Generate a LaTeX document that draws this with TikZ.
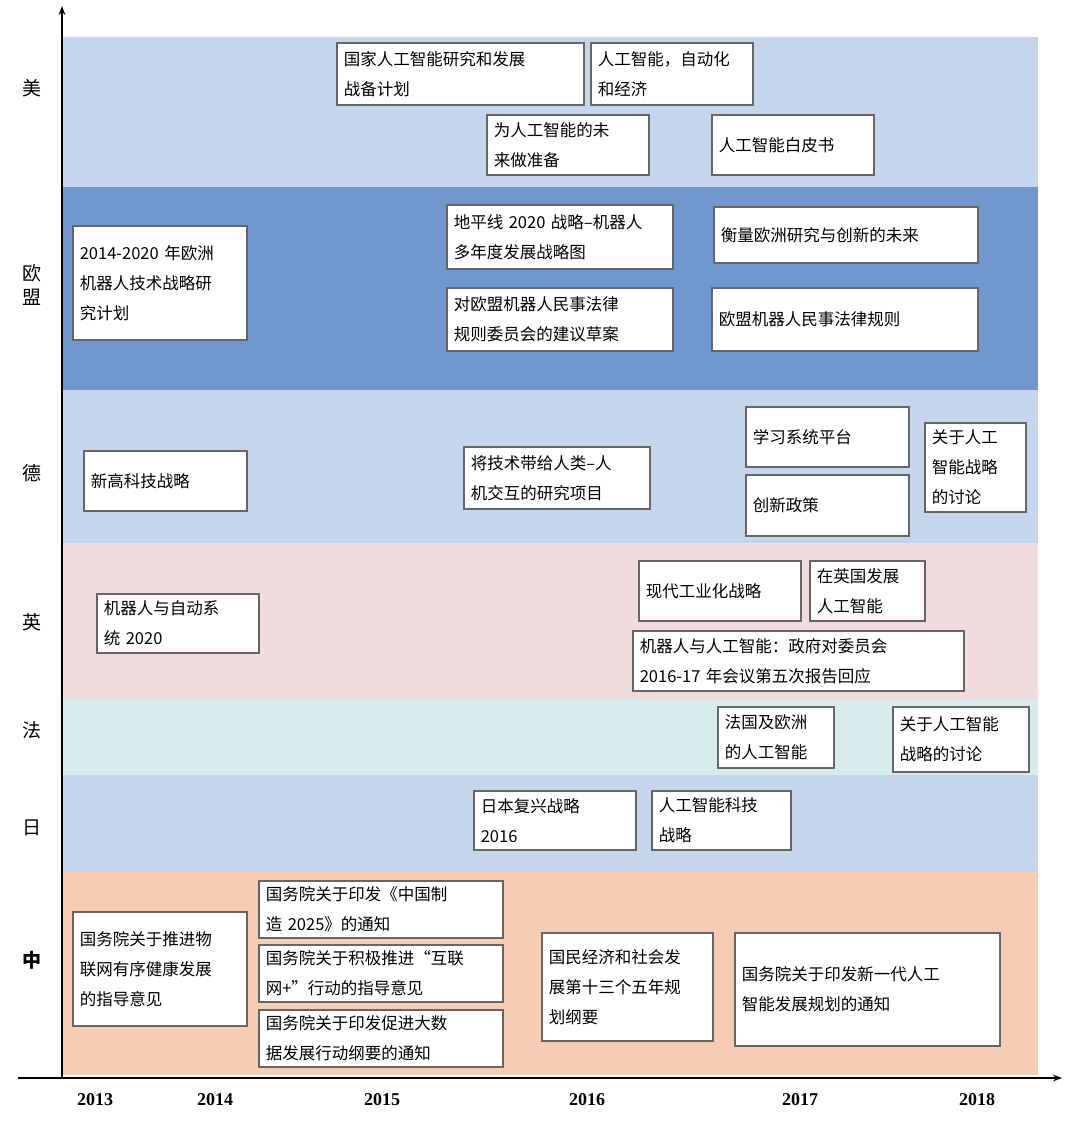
\documentclass[tikz,border=0pt]{standalone}
\usepackage{fontspec}
\setmainfont{Liberation Serif}
\newfontfamily\cjk{Noto Sans CJK SC}
\usetikzlibrary{arrows.meta}
\definecolor{bandblue}{HTML}{C5D5EC}
\definecolor{banddark}{HTML}{7098CF}
\definecolor{bandpink}{HTML}{F0DCDC}
\definecolor{bandcyan}{HTML}{D6ECEC}
\definecolor{bandpeach}{HTML}{F6CDB4}
\tikzset{
  pbox/.style={draw=black!60, line width=1.6pt, fill=white, anchor=north west,
    align=left, inner sep=6pt, font=\cjk\fontsize{16.5}{30}\selectfont},
  rowlab/.style={font=\cjk\fontsize{19}{20}\selectfont},
  yearlab/.style={font=\bfseries\fontsize{18}{20}\selectfont}
}
\newcommand\pb[6]{\node[pbox, minimum width=#4pt, minimum height=#5pt, text width=#4pt-14pt] (#1) at (#2,#3) {#6};}
\begin{document}
\begin{tikzpicture}[x=1pt,y=-1pt]
\useasboundingbox (0,0) rectangle (1080,1125);
% bands
\fill[bandblue] (62,37) rectangle (1038,187);
\fill[banddark] (62,187) rectangle (1038,390);
\fill[bandblue] (62,390) rectangle (1038,543);
\fill[bandpink] (62,543) rectangle (1038,700);
\fill[bandcyan] (62,700) rectangle (1038,775);
\fill[bandblue] (62,775) rectangle (1038,872);
\fill[bandpeach] (62,872) rectangle (1038,1075);
% axes
\coordinate (o) at (62,1078);
\coordinate (ytop) at (62,6);
\coordinate (xl) at (18,1078);
\coordinate (xr) at (1062,1078);
\draw[line width=1.4pt, -{Stealth[length=9pt]}] (o) -- (ytop);
\draw[line width=1.4pt, -{Stealth[length=9pt]}] (xl) -- (xr);
% rows
\node[rowlab] (rus) at (32,88) {美};
\node[rowlab] (reua) at (32,273) {欧};
\node[rowlab] (reub) at (32,297) {盟};
\node[rowlab] (rde) at (32,473) {德};
\node[rowlab] (ruk) at (32,622) {英};
\node[rowlab] (rfr) at (32,730) {法};
\node[rowlab] (rjp) at (32,828) {日};
\node[rowlab, font=\cjk\bfseries\fontsize{19}{20}\selectfont] (rcn) at (32,960) {中};
% years
\node[yearlab] (y13) at (95,1100) {2013};
\node[yearlab] (y14) at (215,1100) {2014};
\node[yearlab] (y15) at (382,1100) {2015};
\node[yearlab] (y16) at (587,1100) {2016};
\node[yearlab] (y17) at (800,1100) {2017};
\node[yearlab] (y18) at (977,1100) {2018};
% US
\pb{usa}{336}{42}{247}{62}{国家人工智能研究和发展\\战备计划}
\pb{usb}{590}{42}{162}{62}{人工智能，自动化\\和经济}
\pb{usc}{486}{114}{162}{60}{为人工智能的未\\来做准备}
\pb{usd}{711}{114}{162}{60}{人工智能白皮书}
% EU
\pb{eua}{72}{225}{174}{114}{2014-2020 年欧洲\\机器人技术战略研\\究计划}
\pb{eub}{446}{204}{226}{64}{地平线 2020 战略–机器人\\多年度发展战略图}
\pb{euc}{713}{206}{264}{56}{衡量欧洲研究与创新的未来}
\pb{eud}{446}{287}{226}{63}{对欧盟机器人民事法律\\规则委员会的建议草案}
\pb{eue}{711}{287}{266}{63}{欧盟机器人民事法律规则}
% DE
\pb{dea}{83}{450}{163}{60}{新高科技战略}
\pb{deb}{463}{446}{186}{62}{将技术带给人类–人\\机交互的研究项目}
\pb{dec}{745}{406}{163}{60}{学习系统平台}
\pb{ded}{745}{474}{163}{61}{创新政策}
\pb{dee}{924}{422}{101}{89}{关于人工\\智能战略\\的讨论}
% UK
\pb{uka}{96}{593}{162}{59}{机器人与自动系\\统 2020}
\pb{ukb}{638}{560}{162}{60}{现代工业化战略}
\pb{ukc}{809}{560}{115}{60}{在英国发展\\人工智能}
\pb{ukd}{632}{630}{331}{60}{机器人与人工智能：政府对委员会\\2016-17 年会议第五次报告回应}
% FR
\pb{fra}{717}{706}{116}{61}{法国及欧洲\\的人工智能}
\pb{frb}{892}{706}{136}{65}{关于人工智能\\战略的讨论}
% JP
\pb{jpa}{473}{790}{162}{59}{日本复兴战略\\2016}
\pb{jpb}{651}{790}{139}{59}{人工智能科技\\战略}
% CN
\pb{cna}{72}{911}{174}{114}{国务院关于推进物\\联网有序健康发展\\的指导意见}
\pb{cnb}{258}{880}{244}{57}{国务院关于印发《中国制\\造 2025》的通知}
\pb{cnc}{258}{944}{244}{56}{国务院关于积极推进“互联\\网+”行动的指导意见}
\pb{cnd}{258}{1009}{244}{55}{国务院关于印发促进大数\\据发展行动纲要的通知}
\pb{cne}{541}{932}{171}{108}{国民经济和社会发\\展第十三个五年规\\划纲要}
\pb{cnf}{734}{932}{265}{113}{国务院关于印发新一代人工\\智能发展规划的通知}
\end{tikzpicture}
\end{document}
